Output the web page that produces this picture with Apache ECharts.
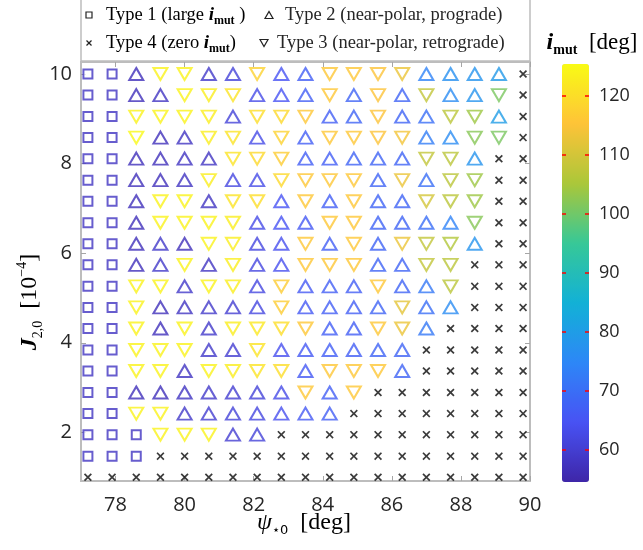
<!DOCTYPE html>
<html><head><meta charset="utf-8">
<script src="https://cdn.jsdelivr.net/npm/echarts@6/dist/echarts.min.js"></script>
<style>html,body{margin:0;padding:0;background:#fff}#c{width:643px;height:550px}</style>
</head><body><div id="c"></div>
<script>
// ---- data ----
const psi = [77.2,77.9,78.6,79.3,80.0,80.7,81.4,82.1,82.8,83.5,84.2,84.9,85.6,86.3,87.0,87.7,88.4,89.1,89.8];
const J20 = [10.00,9.53,9.05,8.58,8.11,7.63,7.16,6.68,6.21,5.74,5.26,4.79,4.32,3.84,3.37,2.89,2.42,1.95,1.47,1.00];
// S = Type 1 (square), U = Type 2 (up triangle), D = Type 3 (down triangle), X = Type 4 (cross)
const typeRows = [
 "SSUDDUUDUUDDDDUUUUX",
 "SSUUDDDUUUDUDUDUUDX",
 "SSDDDDUDDDUUDUUDDUX",
 "SSDUUDDUDUDDDDUUDDX",
 "SSUUUUDDDUUUUUDDUXX",
 "SSUUUDUUDDDDUDUDDXX",
 "SSUDDUDDUDUDUUDDDXX",
 "SSUDDDDUUUDDUUUUDXX",
 "SSUUUDDUUDUDUDDDUXX",
 "SSUUDUDUUDDDUUDDXXX",
 "SSDDUDDUDUUUDUUDXXX",
 "SSDUUUUUDUUUUDUUXXX",
 "SSDUDUDDDDUUDDUXXXX",
 "SSDDDUUDUUUUUUXXXXX",
 "SSDDUDDDDUDDDUXXXXX",
 "SSUUUUUUUDUDXXXXXXX",
 "SSDDUUUUUUUXXXXXXXX",
 "SSSDDDUUXXXXXXXXXXX",
 "SSSXXXXXXXXXXXXXXXX",
 "XXXXXXXXXXXXXXXXXXX"
];
const imutRows = [
 [58,58,57,124,124,59,61,118,65,67,116,116,115,113,74,77,78,79,null],
 [58,58,57,58,124,123,121,63,65,67,116,68,115,68,108,76,78,101,null],
 [58,58,124,124,124,123,61,120,119,116,67,68,115,68,70,107,104,80,null],
 [58,58,125,57,58,123,121,63,118,67,116,116,115,114,73,76,102,101,null],
 [58,58,57,57,58,58,121,119,117,67,67,68,68,68,108,107,78,null,null],
 [58,58,57,57,58,123,62,63,119,116,116,116,68,113,70,107,104,null,null],
 [58,58,57,124,124,58,121,120,65,116,67,116,68,68,110,107,104,null,null],
 [58,58,57,124,124,124,123,63,65,66,116,116,68,68,70,74,102,null,null],
 [58,58,57,59,57,124,123,62,64,116,67,116,68,113,108,106,78,null,null],
 [58,58,57,59,124,58,123,62,64,116,116,116,68,68,108,107,null,null,null],
 [58,58,124,124,59,124,123,62,117,66,67,67,116,68,72,107,null,null,null],
 [58,58,124,57,58,59,60,62,117,66,67,67,68,112,70,76,null,null,null],
 [58,58,124,57,124,59,123,122,120,116,67,67,116,113,72,null,null,null,null],
 [58,58,124,124,124,59,60,121,64,66,67,67,68,68,null,null,null,null,null],
 [58,58,124,124,58,124,123,121,120,66,116,116,116,68,null,null,null,null,null],
 [58,58,57,57,58,59,60,61,63,116,67,116,null,null,null,null,null,null,null],
 [58,58,124,124,59,60,61,62,64,66,67,null,null,null,null,null,null,null,null],
 [58,58,58,124,124,124,60,61,null,null,null,null,null,null,null,null,null,null,null],
 [58,58,58,null,null,null,null,null,null,null,null,null,null,null,null,null,null,null,null],
 [null,null,null,null,null,null,null,null,null,null,null,null,null,null,null,null,null,null,null]
];
const xTicks = [78,80,82,84,86,88,90];
const yTicks = [2,4,6,8,10];
const cbarTicks = [60,70,80,90,100,110,120];
const cbarMin = 54.6, cbarMax = 125.4;
const parula = ['#3e26a8','#4852f4','#2d87f7','#12b1d6','#37c897','#abc739','#fec338','#f9fb15'];

// ---- build series data ----
const dS = [], dU = [], dD = [], dX = [];
typeRows.forEach((row, r) => {
  for (let k = 0; k < row.length; k++) {
    const t = row[k];
    const p = [psi[k], J20[r], imutRows[r][k]];
    if (t === 'S') dS.push(p);
    else if (t === 'U') dU.push(p);
    else if (t === 'D') dD.push(p);
    else dX.push([psi[k], J20[r]]);
  }
});

const SERIF = "'Liberation Serif', 'DejaVu Serif', serif";
const SANS = "'Open Sans', 'Noto Sans', sans-serif";
const TXT = '#262626';
const frameCol = '#bdbdbd';
const tickCol = '#a6a6a6';

const chart = echarts.init(document.getElementById('c'), null, {renderer: 'canvas'});

const mainAxisCommon = {
  axisLine: {show: false},
  splitLine: {show: false}
};

const option = {
  backgroundColor: '#fff',
  animation: false,
  grid: [
    {left: 81, right: 113, top: 62, bottom: 69, show: true, borderColor: frameCol, borderWidth: 2, backgroundColor: '#fff'},
    {left: 562, top: 64, width: 27, height: 418}
  ],
  xAxis: [
    Object.assign({gridIndex: 0, type: 'value', min: 77, max: 90, position: 'bottom',
      axisTick: {inside: true, length: 5, customValues: xTicks, lineStyle: {color: tickCol, width: 1}},
      axisLabel: {customValues: xTicks, margin: 14, fontSize: 20, color: TXT, fontFamily: SANS}
    }, mainAxisCommon),
    Object.assign({gridIndex: 0, type: 'value', min: 77, max: 90, position: 'top',
      axisTick: {inside: true, length: 5, customValues: xTicks, lineStyle: {color: tickCol, width: 1}},
      axisLabel: {show: false}
    }, mainAxisCommon),
    {gridIndex: 1, type: 'value', min: 0, max: 1, show: false}
  ],
  yAxis: [
    Object.assign({gridIndex: 0, type: 'value', min: 0.915, max: 10.268, position: 'left',
      axisTick: {inside: true, length: 5, customValues: yTicks, lineStyle: {color: tickCol, width: 1}},
      axisLabel: {customValues: yTicks, margin: 9, fontSize: 20, color: TXT, fontFamily: SANS}
    }, mainAxisCommon),
    Object.assign({gridIndex: 0, type: 'value', min: 0.915, max: 10.268, position: 'right',
      axisTick: {inside: true, length: 5, customValues: yTicks, lineStyle: {color: tickCol, width: 1}},
      axisLabel: {show: false}
    }, mainAxisCommon),
    {gridIndex: 1, type: 'value', min: cbarMin, max: cbarMax, position: 'right', z: 10,
      axisLine: {show: false}, splitLine: {show: false},
      axisTick: {inside: false, length: 4, customValues: cbarTicks, lineStyle: {color: '#ff0000', width: 1.5}},
      axisLabel: {customValues: cbarTicks, margin: 10, fontSize: 18, color: TXT, fontFamily: SANS}
    },
    {gridIndex: 1, type: 'value', min: cbarMin, max: cbarMax, position: 'right', z: 10,
      axisLine: {show: false}, splitLine: {show: false},
      axisTick: {inside: true, length: 4, customValues: cbarTicks, lineStyle: {color: '#ff0000', width: 1.5}},
      axisLabel: {show: false}
    }
  ],
  visualMap: {
    type: 'continuous', min: cbarMin, max: cbarMax, dimension: 2, seriesIndex: [0, 1, 2],
    inRange: {color: parula}, show: true, calculable: false, hoverLink: false,
    left: 562, top: 64, itemWidth: 27, itemHeight: 418, padding: 0, text: null,
    textStyle: {color: 'transparent'}
  },
  series: [
    {type: 'scatter', name: 'Type 1', xAxisIndex: 0, yAxisIndex: 0, data: dS,
      symbol: 'emptyRect', symbolSize: 9, itemStyle: {borderWidth: 1.5}},
    {type: 'scatter', name: 'Type 2', xAxisIndex: 0, yAxisIndex: 0, data: dU,
      symbol: 'emptyTriangle', symbolSize: [14, 12], itemStyle: {borderWidth: 1.5}},
    {type: 'scatter', name: 'Type 3', xAxisIndex: 0, yAxisIndex: 0, data: dD,
      symbol: 'emptyTriangle', symbolRotate: 180, symbolSize: [14, 12], itemStyle: {borderWidth: 1.5}},
    {type: 'scatter', name: 'Type 4', xAxisIndex: 0, yAxisIndex: 0, data: dX,
      symbol: 'path://M0,1.5L1.5,0L5,3.5L8.5,0L10,1.5L6.5,5L10,8.5L8.5,10L5,6.5L1.5,10L0,8.5L3.5,5Z',
      symbolSize: 8, itemStyle: {color: '#0a0a0a'}}
  ],
  graphic: [
    // legend box
    {type: 'rect', z: 50, shape: {x: 81, y: -2, width: 449, height: 63},
      style: {fill: '#fff', stroke: frameCol, lineWidth: 1.5}},
    {type: 'rect', z: 51, shape: {x: 86, y: 12, width: 6, height: 6},
      style: {fill: 'none', stroke: '#222', lineWidth: 1.2}},
    {type: 'polygon', z: 51, shape: {points: [[265, 18.5], [273, 18.5], [269, 11.5]]},
      style: {fill: 'none', stroke: '#222', lineWidth: 1.2}},
    {type: 'polyline', z: 51, shape: {points: [[86.5, 40.5], [91.5, 45.5]]}, style: {stroke: '#222', lineWidth: 1.3}},
    {type: 'polyline', z: 51, shape: {points: [[91.5, 40.5], [86.5, 45.5]]}, style: {stroke: '#222', lineWidth: 1.3}},
    {type: 'polygon', z: 51, shape: {points: [[260, 39.5], [268, 39.5], [264, 46.5]]},
      style: {fill: 'none', stroke: '#222', lineWidth: 1.2}},
    {type: 'text', z: 52, style: {x: 106, y: 15, verticalAlign: 'middle', align: 'left',
      text: '{t|Type 1 (large }{i|i}{s|mut}{t| )}',
      rich: {t: {fontFamily: SERIF, fontSize: 18.5, color: TXT, lineHeight: 24},
             i: {fontFamily: SERIF, fontSize: 19, fontStyle: 'italic', fontWeight: 'bold', color: TXT, lineHeight: 24},
             s: {fontFamily: SERIF, fontSize: 12, fontWeight: 'bold', color: TXT, lineHeight: 12, verticalAlign: 'bottom'}}}},
    {type: 'text', z: 52, style: {x: 285, y: 15, verticalAlign: 'middle', align: 'left',
      text: 'Type 2 (near-polar, prograde)', font: '18.5px ' + SERIF, fill: TXT}},
    {type: 'text', z: 52, style: {x: 106, y: 43, verticalAlign: 'middle', align: 'left',
      text: '{t|Type 4 (zero }{i|i}{s|mut}{t|)}',
      rich: {t: {fontFamily: SERIF, fontSize: 18.5, color: TXT, lineHeight: 24},
             i: {fontFamily: SERIF, fontSize: 19, fontStyle: 'italic', fontWeight: 'bold', color: TXT, lineHeight: 24},
             s: {fontFamily: SERIF, fontSize: 12, fontWeight: 'bold', color: TXT, lineHeight: 12, verticalAlign: 'bottom'}}}},
    {type: 'text', z: 52, style: {x: 277, y: 43, verticalAlign: 'middle', align: 'left',
      text: 'Type 3 (near-polar, retrograde)', font: '18.5px ' + SERIF, fill: TXT}},
    // x-axis title
    {type: 'text', z: 52, style: {x: 304, y: 523, verticalAlign: 'middle', align: 'center',
      text: '{p|ψ}{s|⋆0}{t|  [deg]}',
      rich: {p: {fontFamily: SERIF, fontSize: 24, fontStyle: 'italic', color: TXT, lineHeight: 28},
             s: {fontFamily: "'DejaVu Sans', sans-serif", fontSize: 13, color: TXT, lineHeight: 13, verticalAlign: 'bottom'},
             t: {fontFamily: SERIF, fontSize: 24, color: TXT, lineHeight: 28}}}},
    // y-axis title
    {type: 'text', z: 52, x: 30, y: 302, rotation: Math.PI / 2,
      style: {x: 0, y: 0, verticalAlign: 'middle', align: 'center',
      text: '{j|J}{s|2,0}{t|  [10}{u|−4}{t|]}',
      rich: {j: {fontFamily: SERIF, fontSize: 24, fontStyle: 'italic', fontWeight: 'bold', color: TXT, lineHeight: 30},
             s: {fontFamily: SERIF, fontSize: 14, color: TXT, lineHeight: 14, verticalAlign: 'bottom'},
             t: {fontFamily: SERIF, fontSize: 24, color: TXT, lineHeight: 30},
             u: {fontFamily: SERIF, fontSize: 14, color: TXT, lineHeight: 14, verticalAlign: 'top'}}}},
    // colorbar title
    {type: 'text', z: 52, style: {x: 592, y: 43, verticalAlign: 'middle', align: 'center',
      text: '{i|i}{s|mut}{t|  [deg]}',
      rich: {i: {fontFamily: SERIF, fontSize: 24, fontStyle: 'italic', fontWeight: 'bold', color: TXT, lineHeight: 28},
             s: {fontFamily: SERIF, fontSize: 14, fontWeight: 'bold', color: TXT, lineHeight: 14, verticalAlign: 'bottom'},
             t: {fontFamily: SERIF, fontSize: 23, color: TXT, lineHeight: 28}}}}
  ]
};
chart.setOption(option);
</script>
</body></html>
